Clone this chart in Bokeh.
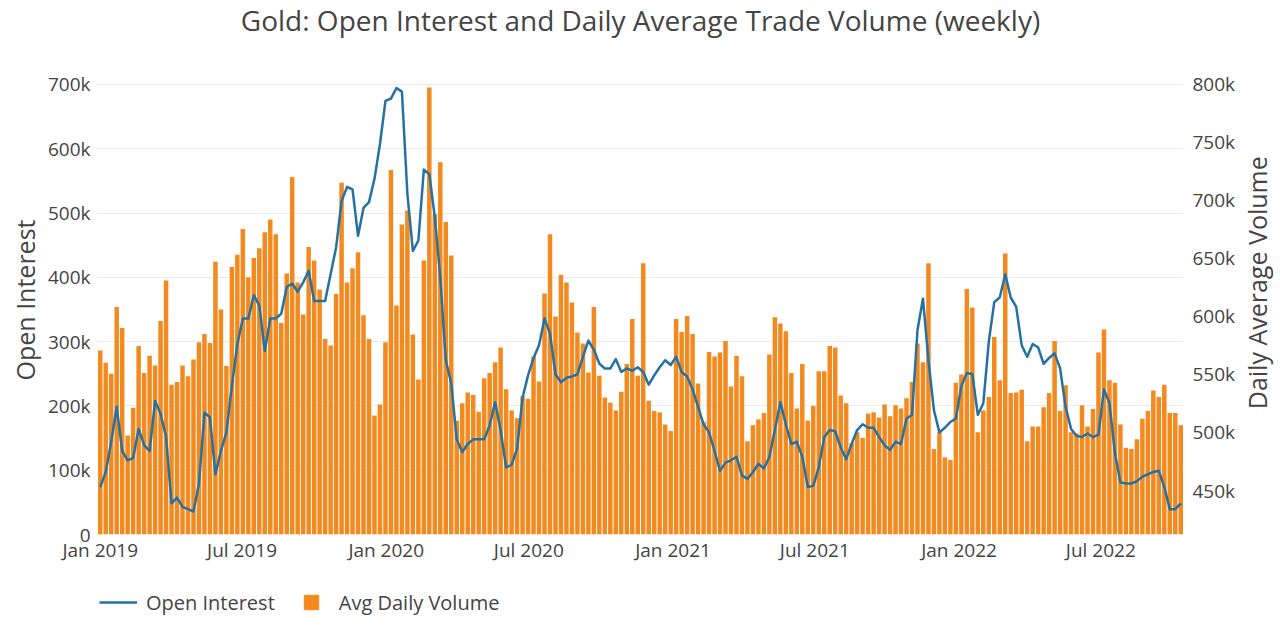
import pandas as pd
from bokeh.plotting import figure
from bokeh.layouts import column, row
from bokeh.models import (Range1d, LinearAxis, FixedTicker, NumeralTickFormatter,
                          DatetimeTickFormatter, Legend, LegendItem, Label)
from bokeh.embed import file_html
from bokeh.resources import INLINE

# ---------------- data (thousands) ----------------
first_week = "2019-01-01"

avg_daily_volume_k = [
    286, 267, 250, 354, 321, 154, 197, 293, 251, 278, 263, 332, 395, 233, 237, 263, 246, 272, 299, 312,
    298, 424, 350, 262, 416, 435, 475, 400, 430, 445, 470, 490, 467, 329,
    406, 556, 392, 342, 447, 426, 381, 304, 294, 374, 547, 392, 414, 439, 341, 304, 185, 202, 299, 567,
    356, 482, 504, 311, 241, 426, 695, 498, 579, 486, 434, 177,
    204, 221, 217, 191, 243, 251, 268, 291, 226, 193, 181, 215, 211, 277, 238, 375, 467, 339, 404, 392,
    361, 314, 297, 252, 354, 247, 213, 205, 193, 222, 265, 335, 247, 422,
    208, 192, 190, 171, 161, 335, 315, 340, 312, 235, 175, 284, 277, 283, 301, 230, 278, 246, 145, 170,
    179, 189, 280, 338, 328, 316, 251, 196, 265, 177, 200, 254,
    254, 293, 291, 216, 204, 142, 159, 150, 188, 190, 182, 202, 184, 201, 196, 212, 237, 297, 268, 422,
    133, 159, 120, 116, 236, 249, 382, 353, 159, 193, 214, 307, 240,
    437, 220, 221, 225, 145, 168, 168, 198, 220, 301, 192, 232, 159, 157, 201, 168, 195, 283, 319, 240,
    236, 171, 135, 133, 148, 180, 192, 224, 214, 233, 189, 189, 170,
]

open_interest_k = [
    453, 466, 492, 522, 484, 476, 478, 503, 489, 484, 527, 516, 496, 439, 444, 436, 434, 432, 456, 517,
    513, 464, 484, 500, 540, 576, 598, 598, 618, 609, 570, 598, 598, 602,
    625, 628, 621, 629, 639, 613, 613, 613, 636, 659, 699, 711, 709, 669, 693, 698, 718, 748, 785, 787,
    796, 793, 705, 656, 665, 726, 722, 685, 633, 562, 542, 494,
    483, 490, 494, 494, 494, 506, 526, 502, 470, 472, 486, 530, 549, 564, 575, 598, 585, 550, 543, 547,
    548, 550, 565, 579, 571, 559, 555, 555, 563, 552, 555, 553, 556, 552,
    541, 549, 556, 562, 558, 565, 552, 548, 537, 522, 507, 500, 484, 467, 474, 476, 479, 463, 460, 466,
    473, 469, 479, 502, 526, 507, 490, 492, 479, 453, 454, 470, 496,
    502, 501, 487, 477, 490, 502, 507, 504, 504, 496, 489, 485, 492, 490, 512, 515, 588, 615,
    562, 519, 500, 504, 509, 512, 540, 551, 550, 515, 525, 578, 612, 616, 636,
    616, 608, 575, 565, 576, 573, 559, 564, 568, 555, 522, 503, 497, 496, 499, 496, 498, 537, 525, 482,
    457, 456, 456, 458, 462, 464, 466, 467, 453, 434, 434, 439,
]

x_tick_dates = ["2019-01-01", "2019-07-01", "2020-01-01", "2020-07-01",
                "2021-01-01", "2021-07-01", "2022-01-01", "2022-07-01"]
x_tick_labels = ["Jan 2019", "Jul 2019", "Jan 2020", "Jul 2020",
                 "Jan 2021", "Jul 2021", "Jan 2022", "Jul 2022"]
left_ticks_k = [0, 100, 200, 300, 400, 500, 600, 700]
right_ticks_k = [450, 500, 550, 600, 650, 700, 750, 800]

title_text = "Gold: Open Interest and Daily Average Trade Volume (weekly)"
left_title = "Open Interest"
right_title = "Daily Average Volume"
series_names = ["Open Interest", "Avg Daily Volume"]

# ---------------- helpers ----------------
DAY = 86400000


def ms(d):
    return int(pd.Timestamp(d).value // 10**6)


week_ms = [ms(d) for d in pd.date_range(first_week, periods=len(avg_daily_volume_k), freq="7D")]
vol = [v * 1000 for v in avg_daily_volume_k]
oi = [v * 1000 for v in open_interest_k]

x0 = week_ms[0] - 3.5 * DAY
x1 = week_ms[-1] + 3.5 * DAY
LEFT_TOP = 729400
RIGHT_BOTTOM, RIGHT_TOP = 412200, 815500

FONT = "Open Sans"
TXT = "#444444"
BAR = "#f38a1f"
LINE = "#2471a3"

TOTAL_W = 1280
TITLE_H = 65
MAIN_H = 503
LEG_H = 73
MAIN_W = 1240
RIGHT_W = TOTAL_W - MAIN_W


def blank_fig(w, h):
    f = figure(width=w, height=h, x_range=Range1d(0, w), y_range=Range1d(0, h),
               x_axis_location=None, y_axis_location=None, toolbar_location=None,
               output_backend="svg", min_border=0, title=None)
    f.outline_line_color = None
    f.grid.visible = False
    f.background_fill_color = "white"
    f.border_fill_color = "white"
    return f


# ---------------- title strip ----------------
tfig = blank_fig(TOTAL_W, TITLE_H)
tfig.add_layout(Label(x=TOTAL_W / 2, y=TITLE_H - 19, text=title_text,
                      text_align="center", text_baseline="middle",
                      text_font=FONT, text_font_size="28px", text_color=TXT))

# ---------------- main chart ----------------
p = figure(width=MAIN_W, height=MAIN_H, x_axis_type="datetime",
           x_range=Range1d(x0, x1), y_range=Range1d(0, LEFT_TOP),
           output_backend="svg", toolbar_location=None, title=None,
           min_border_left=97, min_border_right=MAIN_W - 97 - 1086,
           min_border_top=0, min_border_bottom=MAIN_H - 469,
           background_fill_color="white", border_fill_color="white")
p.outline_line_color = None


def style(ax, standoff):
    ax.axis_line_color = None
    ax.major_tick_line_color = None
    ax.minor_tick_line_color = None
    ax.major_tick_out = 0
    ax.major_tick_in = 0
    ax.minor_tick_out = 0
    ax.major_label_text_font = FONT
    ax.major_label_text_font_size = "19px"
    ax.major_label_text_color = TXT
    ax.major_label_standoff = standoff


left_ticker = FixedTicker(ticks=[t * 1000 for t in left_ticks_k])
yl = p.left[0]
yl.ticker = left_ticker
yl.formatter = NumeralTickFormatter(format="0a")
style(yl, 7)
yl.axis_label = left_title
yl.axis_label_text_font = FONT
yl.axis_label_text_font_size = "25px"
yl.axis_label_text_font_style = "normal"
yl.axis_label_text_color = TXT
yl.axis_label_standoff = 3

xb = p.below[0]
xt = [ms(d) for d in x_tick_dates]
xb.ticker = FixedTicker(ticks=xt)
xb.formatter = DatetimeTickFormatter(years="%b %Y", months="%b %Y", days="%b %Y")
xb.major_label_overrides = {t: lab for t, lab in zip(xt, x_tick_labels)}
style(xb, 2)

p.xgrid.visible = False
p.ygrid.ticker = left_ticker
p.ygrid.grid_line_color = "#ebebeb"
p.ygrid.grid_line_width = 1

p.extra_y_ranges = {"oi": Range1d(RIGHT_BOTTOM, RIGHT_TOP)}
yr = LinearAxis(y_range_name="oi", ticker=FixedTicker(ticks=[t * 1000 for t in right_ticks_k]),
                formatter=NumeralTickFormatter(format="0a"))
style(yr, 9)
p.add_layout(yr, "right")

p.vbar(x=week_ms, top=vol, width=0.82 * 7 * DAY, fill_color=BAR, line_color=None)
p.line(week_ms, oi, y_range_name="oi", line_color=LINE, line_width=2.5, line_join="round")

# ---------------- right axis title strip (reads bottom-to-top) ----------------
rfig = blank_fig(RIGHT_W, MAIN_H)
rfig.add_layout(Label(x=16, y=MAIN_H - 233, text=right_title, angle=90, angle_units="deg",
                      text_align="center", text_baseline="middle",
                      text_font=FONT, text_font_size="25px", text_color=TXT))

# ---------------- legend strip ----------------
legfig = blank_fig(TOTAL_W, LEG_H)
l_dummy = legfig.line([-20, -10], [-20, -20], line_color=LINE, line_width=2.5)
s_dummy = legfig.scatter([-20], [-20], marker="square", size=14, fill_color=BAR, line_color=BAR)
legend = Legend(items=[LegendItem(label=series_names[0], renderers=[l_dummy]),
                       LegendItem(label=series_names[1], renderers=[s_dummy])],
                orientation="horizontal", location=(99, 21),
                glyph_width=38, glyph_height=36, label_standoff=9, spacing=17,
                padding=2, margin=0, border_line_color=None, background_fill_alpha=0,
                label_text_font=FONT, label_text_font_size="20px", label_text_color=TXT)
legfig.add_layout(legend)

root = column(tfig, row(p, rfig), legfig)
open("out.html", "w").write(file_html(root, INLINE))
